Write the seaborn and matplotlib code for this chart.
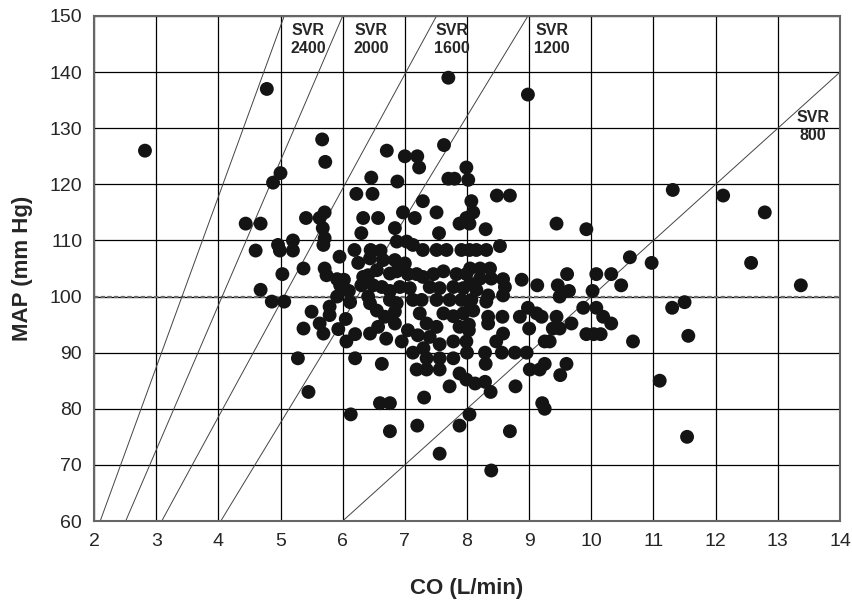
import matplotlib
matplotlib.use("Agg")
import matplotlib.pyplot as plt
import seaborn as sns
import pandas as pd

# =========================
# DATA
# =========================
co_values = [
    2.82, 4.78, 5.00, 4.88, 7.70, 5.67, 5.72, 6.71, 7.00, 7.20, 7.23, 6.88, 6.46, 7.63,
    7.70, 7.80, 7.99, 8.02, 8.98, 11.31, 12.12, 12.79, 12.57, 13.37, 11.30, 11.50, 11.56,
    11.10, 11.54, 8.48, 8.69, 9.44, 9.92, 10.62, 10.97, 9.61, 10.08, 10.32, 10.48, 8.88,
    9.13, 9.46, 9.64, 9.49, 10.02, 8.53, 8.30, 8.07, 8.10, 8.04, 8.15, 8.31, 9.87, 10.08,
    8.98, 9.12, 9.20, 9.44, 10.19, 10.32, 9.68, 9.38, 9.49, 9.00, 8.85, 8.57, 8.34, 8.34,
    9.92, 10.15, 10.04, 10.67, 9.25, 9.33, 8.58, 8.47, 8.03, 8.03,
    8.00, 8.29, 8.56, 8.77, 8.96, 8.30, 9.01, 9.17, 9.25, 9.60, 9.50, 8.13, 8.29, 8.38,
    8.78, 9.21, 9.25, 8.04, 8.69, 8.39,
    5.28, 5.45, 6.20, 6.63, 6.60, 6.76, 6.13, 6.76, 7.31, 7.20, 7.56, 7.88, 7.72,
    7.13, 7.35, 7.56, 7.78, 7.19, 7.35, 7.56, 7.88, 7.99,
    6.22, 6.48, 7.29, 7.51, 6.97, 7.16, 6.33, 6.57, 5.41, 5.63, 5.71, 5.68, 5.71, 5.69,
    5.20, 5.20, 6.30, 6.84, 7.55, 7.88, 7.99,
    4.44, 4.68, 4.60, 4.96, 4.99, 5.03, 4.68, 4.86, 5.06,
    5.37, 5.71, 5.74, 5.91, 5.96, 6.33, 6.41, 6.55, 6.30, 6.49, 5.91, 6.41, 6.44, 5.50,
    5.79, 5.79, 5.37, 5.63, 5.69, 5.93, 6.06, 6.20, 6.44, 6.57, 6.68, 6.84, 7.24, 7.35,
    7.21, 7.40,
    5.95, 6.19, 6.45, 6.61, 6.87, 7.03, 7.13, 7.29, 7.51, 7.67, 7.91, 8.04,
    6.44, 6.65, 6.84, 7.00,
    6.76, 6.87, 7.05, 7.19, 7.29, 7.46, 7.62, 7.83, 7.99,
    6.63, 6.76, 6.92, 7.08, 7.40, 7.56, 7.78, 7.94,
    6.76, 6.87, 7.13, 7.27, 7.51, 7.72, 7.91, 8.07,
    6.84, 7.62, 7.78, 7.94, 8.10,
    7.51, 7.88, 7.56, 7.78, 7.99, 7.30,
    8.21, 8.37, 8.21, 8.39, 8.58, 8.61, 8.58, 8.34, 8.15, 8.31, 8.05, 8.05, 8.05,
    6.02, 6.10, 6.12, 6.05, 6.25, 6.95, 7.05, 6.55, 6.70,
]
map_values = [
    126.0, 137.0, 122.0, 120.3, 139.0, 128.0, 124.0, 126.0, 125.0, 125.0, 123.0, 120.5, 121.2, 127.0,
    121.0, 121.0, 123.0, 120.8, 136.0, 119.0, 118.0, 115.0, 106.0, 102.0, 98.0, 99.0, 93.0,
    85.0, 75.0, 118.0, 118.0, 113.0, 112.0, 107.0, 106.0, 104.0, 104.0, 104.0, 102.0, 103.0,
    102.0, 102.0, 101.0, 100.0, 101.0, 109.0, 112.0, 117.0, 115.0, 113.0, 108.3, 108.3, 98.0, 98.0,
    98.0, 97.0, 96.4, 96.4, 96.4, 95.2, 95.2, 94.3, 94.3, 94.3, 96.4, 96.4, 96.4, 95.2,
    93.3, 93.3, 93.3, 92.0, 92.0, 92.0, 93.4, 92.0, 95.0, 94.0,
    90.0, 90.0, 90.0, 90.0, 90.0, 88.0, 87.0, 87.0, 88.0, 88.0, 86.0, 84.5, 84.8, 83.0,
    84.0, 81.0, 80.0, 79.0, 76.0, 69.0,
    89.0, 83.0, 89.0, 88.0, 81.0, 81.0, 79.0, 76.0, 82.0, 77.0, 72.0, 77.0, 84.0,
    90.0, 89.0, 89.0, 89.0, 87.0, 87.0, 87.0, 86.3, 85.2,
    118.3, 118.3, 117.0, 115.0, 115.0, 114.0, 114.0, 114.0, 114.0, 114.0, 115.0, 112.2, 110.4, 109.2,
    110.0, 108.2, 111.3, 112.2, 111.3, 113.0, 114.0,
    113.0, 113.0, 108.2, 109.2, 108.2, 104.0, 101.2, 99.1, 99.1,
    105.0, 105.0, 103.8, 103.1, 102.0, 103.5, 103.8, 104.7, 102.0, 102.0, 100.0, 100.0, 98.8, 97.3,
    98.2, 96.7, 94.3, 95.2, 93.4, 94.2, 92.0, 93.3, 93.4, 94.6, 96.4, 95.2, 97.0, 95.2,
    93.1, 92.8,
    107.1, 108.3, 108.3, 108.2, 109.8, 109.8, 109.2, 108.3, 108.3, 108.3, 108.3, 108.3,
    106.8, 106.5, 106.5, 105.9,
    104.1, 104.5, 104.0, 104.0, 103.5, 104.0, 104.5, 104.0, 104.0,
    101.7, 101.0, 101.7, 101.5, 101.7, 101.5, 101.7, 101.5,
    99.4, 98.8, 99.4, 99.4, 99.4, 99.4, 99.4, 99.4,
    97.3, 97.0, 96.5, 97.0, 97.5,
    94.6, 94.6, 91.5, 92.0, 92.0, 90.8,
    105.0, 105.0, 103.2, 103.2, 103.1, 101.7, 100.2, 100.2, 101.2, 99.1, 105.0, 102.3, 97.8,
    103.0, 101.0, 99.0, 96.0, 106.0, 92.0, 94.0, 97.5, 92.5,
]

# SVR iso-lines: CO where the line meets MAP 60 and MAP 150 (800 line ends at MAP 140)
svr_names = ["SVR\n2400", "SVR\n2000", "SVR\n1600", "SVR\n1200", "SVR\n800"]
svr_co_low = [2.10, 2.51, 3.09, 4.04, 6.0]
svr_co_high = [5.06, 6.0, 7.51, 8.98, 14.0]
svr_map_low = [60, 60, 60, 60, 60]
svr_map_high = [150, 150, 150, 150, 140]
svr_label_co = [5.45, 6.46, 7.76, 9.36, 13.56]
svr_label_map = [148.8, 148.8, 148.8, 148.8, 133.2]

df = pd.DataFrame({"co": co_values, "map": map_values})

# =========================
# PLOT
# =========================
sns.set_style("white")
plt.rcParams["font.family"] = ["Liberation Sans", "DejaVu Sans"]

fig = plt.figure(figsize=(8.52, 6.01), dpi=100)
ax = fig.add_axes([94 / 852, 1 - 521 / 601, 746 / 852, 505 / 601])

ax.set_xlim(2, 14)
ax.set_ylim(60, 150)
ax.set_xticks(range(2, 15))
ax.set_yticks(range(60, 151, 10))
ax.grid(True, color="black", linewidth=0.9)
ax.set_axisbelow(True)

ax.axhline(100, color="#6a6a6a", linestyle=(0, (2, 1)), linewidth=1.6, zorder=1.5)

for x0, x1, y0, y1 in zip(svr_co_low, svr_co_high, svr_map_low, svr_map_high):
    ax.plot([x0, x1], [y0, y1], color="#444444", linewidth=0.7, zorder=2)

for name, x, y in zip(svr_names, svr_label_co, svr_label_map):
    ax.text(x, y, name, ha="center", va="top", fontsize=11.5, fontweight="bold",
            linespacing=1.25, zorder=4)

sns.scatterplot(data=df, x="co", y="map", s=100, color="#141414", edgecolor="none",
                ax=ax, zorder=3, legend=False)

for sp in ax.spines.values():
    sp.set_color("#666666")
    sp.set_linewidth(1.5)

ax.tick_params(direction="out", length=5, width=1, color="#555555", labelsize=14)
ax.set_xlabel("CO (L/min)", fontsize=16, fontweight="bold", labelpad=20)
ax.set_ylabel("MAP (mm Hg)", fontsize=16, fontweight="bold", labelpad=12)

plt.savefig("out.png", dpi=100)
plt.close()
